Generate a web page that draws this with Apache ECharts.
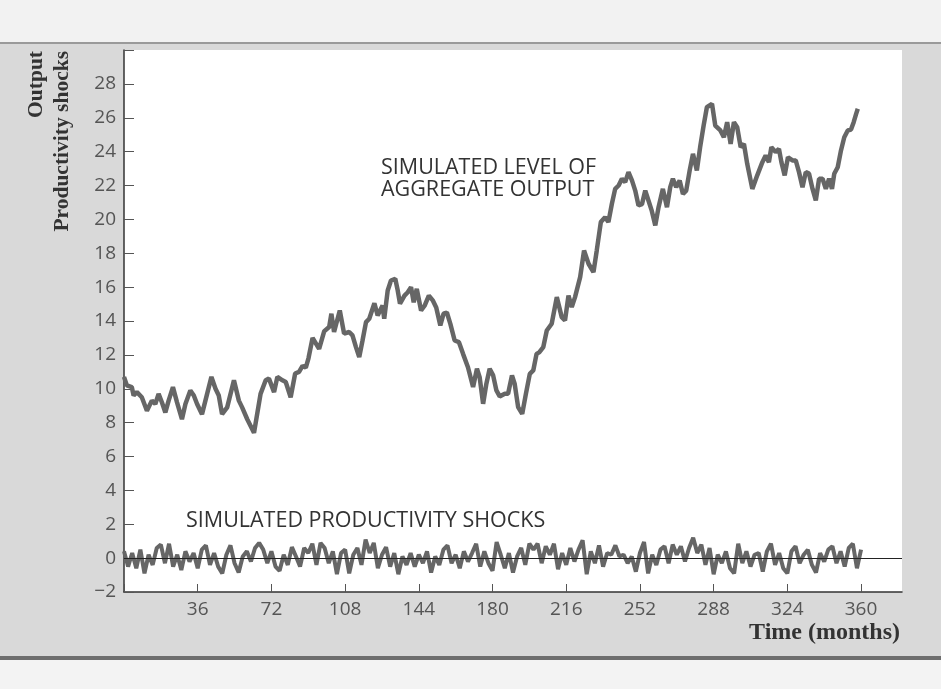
<!DOCTYPE html>
<html>
<head>
<meta charset="utf-8">
<script src="https://cdn.jsdelivr.net/npm/echarts@6/dist/echarts.min.js"></script>
<style>html,body{margin:0;padding:0;background:#dcdcdc}#c{width:941px;height:689px}</style>
</head>
<body>
<div id="c"></div>
<script>
// Simulated level of aggregate output: [month] and [value]
var outputMonths = [0,1.4,3.8,4.7,6.3,8.7,11.2,13.6,15.3,16.9,18.5,20.2,21.8,23.9,25.9,28.3,30,32.4,34.1,35.7,38.1,40.6,42.7,44.7,46.3,47.9,50.4,53.7,56.1,57.7,60.2,63.5,66.7,69.2,70.8,73.3,74.9,77.4,79,81.4,83.6,85.5,87.2,88.8,90.1,92.1,95.3,97.8,100.2,101.3,102.6,105.4,107.5,110,111.6,113.3,114.9,116.5,118.2,119.8,122.3,123.9,126.3,127.1,128.8,130.4,132.5,133.7,134.8,137,138.6,140.2,141.5,143,145.1,146.8,148.9,150.9,152.5,154.5,156.1,157.7,159.4,161.5,163.6,165.6,168,170.5,172.4,173.7,175.4,177,178.6,180.3,181.9,183.5,186,187.6,189.5,190.8,192.5,194.5,196.3,198.2,199.9,201.5,202.8,204.8,206.5,208.9,211.4,213.8,215.4,217.1,218.7,220.3,222.8,224.7,226.9,229.3,230.9,232.9,235,236.6,238.3,239.9,241.6,243.2,244.8,246.4,248.1,249.7,251.3,253,254.6,256.2,257.8,259.5,261.1,263.2,265.2,266.8,268.1,269.7,271.4,273,274.6,276.3,277.9,279.8,281.4,283.1,284.7,287.2,288.8,291.3,293,294.6,296.3,297.9,299.5,301.2,302.8,304.4,306.9,309.3,311.8,313.4,315,316.2,318.3,319.9,321.1,322.7,324.3,326.5,328.1,329.7,331.4,333,334.6,336.3,337.9,339.5,341.2,342.8,344.4,345.8,346.9,348.6,350.2,351.8,353.5,355.1,356.4,357.6,358.4];
var outputValues = [10.7,10.2,10.1,9.6,9.8,9.5,8.7,9.3,9.1,9.7,9.2,8.6,9.3,10.1,9.2,8.2,9.1,9.9,9.6,9.1,8.5,9.7,10.7,10.0,9.6,8.5,8.9,10.5,9.3,8.9,8.2,7.4,9.7,10.5,10.6,9.8,10.7,10.5,10.4,9.5,10.9,11.0,11.35,11.25,11.8,13.0,12.35,13.4,13.64,14.43,13.35,14.62,13.25,13.35,13.15,12.46,11.87,12.85,13.93,14.13,15.05,14.33,14.92,14.13,15.8,16.39,16.49,15.8,15.02,15.5,15.7,16.0,15.1,15.9,14.62,14.9,15.5,15.2,14.8,13.74,14.43,14.5,13.83,12.85,12.75,12.06,11.27,10.1,11.18,10.69,9.11,10.3,11.18,10.79,9.9,9.55,9.7,9.7,10.79,10.3,8.92,8.52,9.7,10.88,11.08,12.06,12.15,12.46,13.44,13.84,15.41,14.23,14.03,15.5,14.82,15.41,16.59,18.16,17.38,16.88,18.16,19.84,20.13,19.84,20.92,21.8,22.0,22.4,22.2,22.79,22.3,21.7,20.82,20.9,21.7,21.1,20.5,19.64,20.72,21.8,20.72,21.9,22.4,21.9,22.3,21.5,21.7,22.89,23.87,22.89,24.26,25.54,26.62,26.82,25.54,25.25,24.85,25.74,24.46,25.74,25.44,24.26,24.46,23.28,21.8,22.6,23.38,23.77,23.38,24.26,23.97,24.16,23.38,22.6,23.67,23.48,23.48,22.79,21.9,22.79,22.7,21.8,21.12,22.4,22.4,21.8,22.4,21.8,22.69,23.08,24.07,24.85,25.25,25.3,25.74,26.23,26.53];
// Simulated productivity shocks, every 2 months from 0 to 360
var shockStep = 2;
var shockValues = [
0.4,-0.5,0.3,-0.6,0.5,-0.9,0.2,-0.4,0.6,0.8,
-0.3,0.85,-0.5,0.2,-0.7,0.4,-0.2,0.3,-0.6,0.5,
0.75,-0.4,0.3,-0.5,-0.9,0.2,0.75,-0.3,-0.85,0.1,
0.4,-0.2,0.6,0.9,0.5,-0.3,0.4,-0.5,-0.75,0.2,
-0.4,0.65,0.1,-0.5,0.6,0.3,0.85,-0.4,0.9,0.6,
-0.3,0.4,-0.95,0.3,0.5,-0.9,0.2,0.6,-0.4,1.1,
0.3,0.9,-0.6,0.2,0.65,-0.5,0.3,-0.95,0.1,-0.4,
0.3,-0.5,0.2,-0.3,0.4,-0.85,0.1,-0.4,0.5,0.75,
-0.3,0.2,-0.6,0.4,-0.2,0.3,0.85,-0.5,0.4,-0.3,
-0.75,0.95,0.2,-0.6,0.3,-0.85,0.1,0.6,-0.4,0.85,
0.5,0.85,-0.3,0.7,0.2,0.85,-0.65,0.3,-0.4,0.6,
-0.2,0.5,1.05,-0.95,0.4,-0.3,0.75,-0.5,0.3,0.2,
0.75,0.1,0.2,-0.3,0.1,-0.8,0.3,0.95,-0.9,0.2,
-0.4,0.5,0.7,-0.3,0.8,0.2,0.7,-0.2,0.6,1.2,
0.3,0.8,-0.4,0.6,-0.95,0.2,-0.3,0.4,-0.6,-0.9,
0.85,-0.3,0.4,-0.5,0.2,0.3,-0.8,0.4,0.85,-0.4,
0.3,-0.6,-0.9,0.4,0.7,-0.3,0.2,0.5,-0.4,-0.85,
0.3,-0.2,0.5,0.7,-0.3,0.4,-0.5,0.6,0.85,-0.6,
0.5];
var xTickValues = [0,36,72,108,144,180,216,252,288,324,360];
var xTickLabels = [36,72,108,144,180,216,252,288,324,360];
var yTickLabels = [-2,0,2,4,6,8,10,12,14,16,18,20,22,24,26,28];

var outputData = outputMonths.map(function(m,i){return [m, outputValues[i]];});
var shockData = shockValues.map(function(v,i){return [i*shockStep, v];});

var chart = echarts.init(document.getElementById('c'));
var labelFont = {color:'#555', fontSize:19, fontFamily:'Open Sans'};
chart.setOption({
  backgroundColor:'#d9d9d9',
  animation:false,
  grid:{left:124, top:50, right:39, bottom:97, show:true, backgroundColor:'#ffffff', borderWidth:0},
  xAxis:{type:'value', min:0, max:380, interval:36,
    axisLine:{show:true, onZero:false, lineStyle:{color:'#333', width:1.5}},
    axisTick:{show:true, inside:true, length:8, customValues:xTickValues, lineStyle:{color:'#555', width:1}},
    splitLine:{show:false},
    axisLabel:Object.assign({margin:8, customValues:xTickLabels, formatter:function(v){return xTickLabels.indexOf(v)>=0 ? String(v) : '';}}, labelFont)
  },
  yAxis:{type:'value', min:-2, max:30, interval:2,
    axisLine:{show:true, onZero:false, lineStyle:{color:'#333', width:1.5}},
    axisTick:{show:true, inside:true, length:10, lineStyle:{color:'#555', width:1}},
    splitLine:{show:false},
    axisLabel:Object.assign({margin:8, formatter:function(v){
      if (yTickLabels.indexOf(v)<0) return '';
      return v<0 ? '\u2212'+Math.abs(v) : String(v);}}, labelFont)
  },
  graphic:[
    {type:'rect', shape:{x:0,y:0,width:941,height:42}, style:{fill:'#f2f2f2'}, silent:true},
    {type:'rect', shape:{x:0,y:42,width:941,height:2}, style:{fill:'#9a9a9a'}, silent:true},
    {type:'rect', shape:{x:0,y:656,width:941,height:4}, style:{fill:'#6e6e6e'}, silent:true},
    {type:'rect', shape:{x:0,y:660,width:941,height:29}, style:{fill:'#f3f3f3'}, silent:true},
    {type:'text', x:36, y:51, rotation:Math.PI/2, style:{text:'Output', fill:'#333', font:'bold 21.5px "Liberation Serif"', textAlign:'right', textVerticalAlign:'middle'}},
    {type:'text', x:62, y:51, rotation:Math.PI/2, style:{text:'Productivity shocks', fill:'#333', font:'bold 21.5px "Liberation Serif"', textAlign:'right', textVerticalAlign:'middle'}},
    {type:'text', x:900, y:633, style:{text:'Time (months)', fill:'#333', font:'bold 24px "Liberation Serif"', textAlign:'right', textVerticalAlign:'middle'}},
    {type:'text', x:381, y:168, style:{text:'SIMULATED LEVEL OF', fill:'#333', font:'21.5px "Open Sans"', textAlign:'left', textVerticalAlign:'middle'}},
    {type:'text', x:381, y:190, style:{text:'AGGREGATE OUTPUT', fill:'#333', font:'21.5px "Open Sans"', textAlign:'left', textVerticalAlign:'middle'}},
    {type:'text', x:186, y:521, style:{text:'SIMULATED PRODUCTIVITY SHOCKS', fill:'#333', font:'21.5px "Open Sans"', textAlign:'left', textVerticalAlign:'middle'}}
  ],
  series:[
    {type:'line', data:outputData, showSymbol:false, symbol:'none', lineStyle:{color:'#666', width:4.5}, z:3},
    {type:'line', data:shockData, showSymbol:false, symbol:'none', lineStyle:{color:'#666', width:4}, z:3,
      markLine:{silent:true, symbol:'none', label:{show:false}, lineStyle:{color:'#222', width:1, type:'solid'}, data:[{yAxis:0}], z:4}}
  ]
});
</script>
</body>
</html>
